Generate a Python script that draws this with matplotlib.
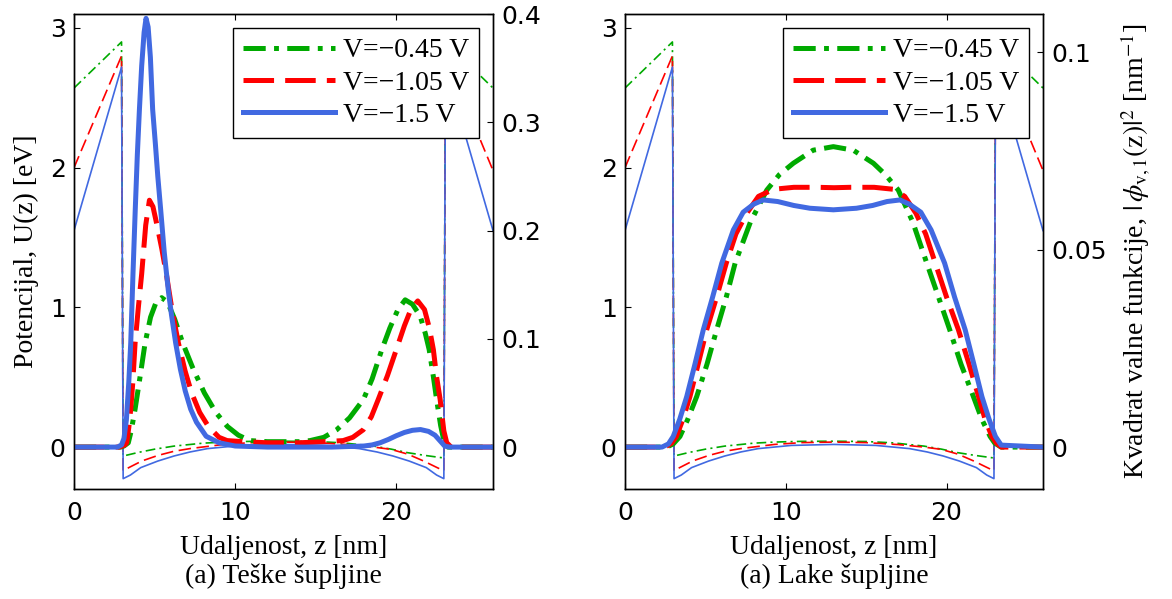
import matplotlib
matplotlib.use('Agg')
import matplotlib.pyplot as plt

# potencijal (isti za oba grafa), z [nm], U [eV]
z_pot_045 = [0, 2.95, 3.05, 4, 5, 6.2, 8, 9.3, 11, 13,
             15, 16.7, 18.6, 19.7, 20.7, 21.8, 22.95, 23.05, 26]
u_pot_045 = [2.57, 2.90, -0.064, -0.038, -0.015, 0.007, 0.028, 0.036, 0.041, 0.042,
             0.040, 0.030, 0.007, -0.015, -0.04, -0.06, -0.078, 2.90, 2.57]
z_pot_105 = [0, 2.95, 3.05, 3.4, 4.2, 5.2, 6.2, 7.24, 9.3, 11,
             13, 15, 17, 18.6, 19.66, 20.7, 21.7, 22.5, 22.95, 23.05, 26]
u_pot_105 = [2.0, 2.80, -0.17, -0.147, -0.1, -0.06, -0.03, -0.01, 0.019, 0.032,
             0.036, 0.032, 0.018, 0.0, -0.016, -0.05, -0.1, -0.145, -0.17, 2.80, 1.98]
z_pot_150 = [0, 2.95, 3.05, 3.5, 4.14, 5.2, 6.2, 7.2, 8.28, 10.35,
             13, 15.6, 17.7, 18.8, 19.8, 20.8, 21.86, 22.5, 22.95, 23.05, 26]
u_pot_150 = [1.55, 2.72, -0.226, -0.2, -0.147, -0.1, -0.064, -0.035, -0.011, 0.012,
             0.019, 0.012, -0.011, -0.035, -0.064, -0.1, -0.147, -0.2, -0.226, 2.72, 1.55]

# teske supljine, |phi|^2 [1/nm]
z_hh_045 = [0, 2.9, 3.1, 3.37, 3.55, 3.79, 4.1, 4.41, 4.75, 5.1,
            5.44, 5.8, 6.25, 6.75, 7.4, 8.09, 8.8, 9.52, 10.2, 10.9,
            12, 13, 14, 14.65, 15.5, 16.3, 17.1, 17.96, 18.5, 19.1,
            19.6, 20.1, 20.55, 21.0, 21.48, 21.8, 22.04, 22.3, 22.5, 22.75,
            22.95, 23.2, 26]
p_hh_045 = [0, 0, 0.001, 0.004, 0.015, 0.035, 0.065, 0.096, 0.12, 0.134,
            0.138, 0.134, 0.118, 0.096, 0.072, 0.05, 0.032, 0.019, 0.011, 0.006,
            0.005, 0.005, 0.005, 0.006, 0.009, 0.016, 0.027, 0.044, 0.063, 0.09,
            0.11, 0.127, 0.136, 0.132, 0.121, 0.105, 0.09, 0.065, 0.044, 0.02,
            0.006, 0, 0]
z_hh_105 = [0, 2.8, 3.0, 3.15, 3.27, 3.4, 3.52, 3.65, 3.79, 4.0,
            4.2, 4.45, 4.68, 4.9, 5.15, 5.45, 5.75, 6.1, 6.48, 6.9,
            7.3, 7.8, 8.34, 9.0, 9.5, 10.5, 12, 14, 15.5, 16.7,
            17.3, 17.95, 18.45, 18.88, 19.45, 20.0, 20.5, 20.9, 21.33, 21.75,
            22.05, 22.3, 22.5, 22.72, 22.95, 23.13, 23.4, 26]
p_hh_105 = [0, 0, 0.001, 0.002, 0.004, 0.018, 0.035, 0.06, 0.096, 0.13,
            0.16, 0.205, 0.228, 0.222, 0.205, 0.183, 0.158, 0.125, 0.096, 0.07,
            0.05, 0.032, 0.019, 0.009, 0.006, 0.005, 0.004, 0.004, 0.005, 0.006,
            0.009, 0.016, 0.028, 0.044, 0.066, 0.09, 0.112, 0.127, 0.135, 0.127,
            0.11, 0.09, 0.065, 0.044, 0.015, 0.004, 0, 0]
z_hh_150 = [0, 2.7, 2.95, 3.1, 3.25, 3.4, 3.52, 3.66, 3.8, 3.93,
            4.06, 4.2, 4.35, 4.47, 4.6, 4.74, 4.88, 5.05, 5.2, 5.38,
            5.6, 5.85, 6.05, 6.31, 6.6, 6.9, 7.24, 7.6, 8.2, 9.0,
            10.0, 12, 14, 16, 17, 18, 18.5, 19, 19.5, 20,
            20.5, 21, 21.5, 22, 22.4, 22.7, 23.0, 23.3, 26]
p_hh_150 = [0, 0, 0.002, 0.008, 0.025, 0.06, 0.096, 0.16, 0.219, 0.27,
            0.312, 0.352, 0.383, 0.396, 0.388, 0.36, 0.312, 0.28, 0.25, 0.219,
            0.18, 0.145, 0.122, 0.096, 0.072, 0.052, 0.035, 0.023, 0.01, 0.004,
            0.001, 0, 0, 0, 0.0005, 0.001, 0.002, 0.004, 0.007, 0.0105,
            0.0135, 0.0155, 0.0162, 0.0145, 0.011, 0.006, 0.001, 0, 0]

# lake supljine
z_lh_045 = [0, 2.6, 3.0, 3.42, 3.9, 4.46, 5.1, 5.7, 6.3, 6.85,
            7.8, 8.82, 9.6, 10.47, 11.7, 12.96, 14.2, 15.45, 16.2, 17.0,
            17.9, 18.77, 19.5, 20.2, 20.9, 21.67, 22.2, 22.71, 23.0, 23.4, 26]
p_lh_045 = [0, 0, 0.0008, 0.0027, 0.007, 0.0128, 0.021, 0.0297, 0.038, 0.0466,
            0.057, 0.0651, 0.069, 0.0719, 0.0752, 0.0761, 0.0752, 0.0719, 0.069, 0.0651,
            0.057, 0.0466, 0.038, 0.0297, 0.021, 0.0128, 0.007, 0.0027, 0.001, 0, 0]
z_lh_105 = [0, 2.5, 2.9, 3.2, 3.6, 4.04, 4.55, 5.08, 5.7, 6.3,
            6.9, 7.57, 8.3, 9.23, 10.5, 12, 13, 14, 15.5, 16.7,
            17.4, 18.1, 18.7, 19.3, 20.0, 20.74, 21.4, 21.99, 22.4, 22.82,
            23.1, 23.4, 26]
p_lh_105 = [0, 0, 0.001, 0.0027, 0.007, 0.0128, 0.021, 0.0297, 0.038, 0.0466,
            0.054, 0.0592, 0.0635, 0.0653, 0.0658, 0.0658, 0.0657, 0.0658, 0.0658, 0.0653,
            0.0635, 0.0592, 0.054, 0.0466, 0.038, 0.0297, 0.021, 0.0128, 0.007, 0.0027,
            0.001, 0, 0]
z_lh_150 = [0, 2.3, 2.7, 3.0, 3.4, 3.84, 4.35, 4.87, 5.45, 6.02,
            6.74, 7.35, 7.99, 8.6, 9.5, 10.5, 11.5, 12.96, 14.4, 15.4,
            16.3, 17.1, 17.7, 18.4, 19.04, 19.88, 20.5, 21.16, 21.7, 22.2,
            22.65, 23.04, 23.4, 26]
p_lh_150 = [0, 0, 0.0008, 0.0027, 0.007, 0.0128, 0.021, 0.0297, 0.038, 0.0466,
            0.055, 0.0595, 0.0615, 0.0626, 0.0622, 0.0612, 0.0605, 0.0601, 0.0605, 0.0612,
            0.0622, 0.0626, 0.0615, 0.0595, 0.055, 0.0466, 0.038, 0.0297, 0.021, 0.0128,
            0.007, 0.0027, 0.0005, 0]

labels = ['V=\u22120.45 V', 'V=\u22121.05 V', 'V=\u22121.5 V']
colors = ['#00aa00', '#ff0000', '#4169e1']
thin_dash = [(7, 3, 1.5, 3), (9, 4), None]
thick_dash = [(16, 6, 3.5, 6), (22, 8), None]

plt.rcParams['font.family'] = 'DejaVu Sans'
plt.rcParams['mathtext.fontset'] = 'stix'
plt.rcParams['lines.scale_dashes'] = False
plt.rcParams['axes.linewidth'] = 1.0
SERIF = 'Liberation Serif'


def line(ax, z, y, color, dash, lw):
    if dash is None:
        return ax.plot(z, y, color=color, lw=lw, ls='-')[0]
    return ax.plot(z, y, color=color, lw=lw, dashes=dash)[0]


def panel(fig, rect, waves, psi_top, psi_ticks, psi_ticklabels, xlabel,
          ylabel_left=None, ylabel_right=None):
    ax = fig.add_axes(rect)
    ax2 = ax.twinx()
    pots = [(z_pot_045, u_pot_045), (z_pot_105, u_pot_105), (z_pot_150, u_pot_150)]
    for (z, u), c, d in zip(pots, colors, thin_dash):
        line(ax, z, u, c, d, 1.2)
    handles = []
    for (z, p), c, d in zip(waves, colors, thick_dash):
        handles.append(line(ax2, z, p, c, d, 3.6))

    ax.set_xlim(0, 26)
    ax.set_ylim(-0.3, 3.1)
    ax2.set_ylim(-0.3 * psi_top / 3.1, psi_top)
    ax.set_xticks([0, 10, 20])
    ax.set_yticks([0, 1, 2, 3])
    ax2.set_yticks(psi_ticks, psi_ticklabels)

    ax.tick_params(axis='x', direction='in', top=True, length=4, labelsize=18, pad=9)
    ax.tick_params(axis='y', direction='in', right=False, length=4, labelsize=18, pad=6)
    ax2.tick_params(axis='y', direction='in', length=4, labelsize=18, pad=6)

    ax.set_xlabel(xlabel, fontsize=20, family=SERIF, labelpad=7, linespacing=1.15)
    if ylabel_left:
        ax.set_ylabel(ylabel_left, fontsize=20, family=SERIF, labelpad=8)
    if ylabel_right:
        ax2.set_ylabel(ylabel_right, fontsize=20, family=SERIF, labelpad=8)

    leg = ax2.legend(handles, labels, loc='upper right', prop={'family': SERIF, 'size': 20},
                     fancybox=False, framealpha=1, edgecolor='black',
                     handlelength=3.3, handletextpad=0.3, labelspacing=0.25,
                     borderpad=0.36, borderaxespad=0.5)
    leg.get_frame().set_linewidth(1.0)
    return ax, ax2


fig = plt.figure(figsize=(11.72, 5.99), dpi=100)

panel(fig, [74 / 1172, 110 / 599, 419 / 1172, 475 / 599],
      [(z_hh_045, p_hh_045), (z_hh_105, p_hh_105), (z_hh_150, p_hh_150)],
      0.4, [0, 0.1, 0.2, 0.3, 0.4], ['0', '0.1', '0.2', '0.3', '0.4'],
      'Udaljenost, z [nm]\n(a) Teške šupljine',
      ylabel_left='Potencijal, U(z) [eV]')

panel(fig, [625 / 1172, 110 / 599, 418 / 1172, 475 / 599],
      [(z_lh_045, p_lh_045), (z_lh_105, p_lh_105), (z_lh_150, p_lh_150)],
      0.1097, [0, 0.05, 0.1], ['0', '0.05', '0.1'],
      'Udaljenost, z [nm]\n(a) Lake šupljine',
      ylabel_right=r'Kvadrat valne funkcije, $|\,\phi_{\mathrm{v},1}(\mathrm{z})|^2$ [nm$^{-1}$]')

fig.savefig('out.png', dpi=100)
